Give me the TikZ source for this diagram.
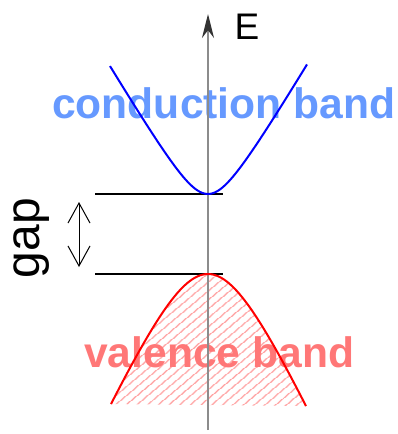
\documentclass[tikz,border=0pt]{standalone}
\usepackage{fontspec}
\setmainfont{Liberation Sans}
\usetikzlibrary{arrows.meta,patterns.meta}
\definecolor{condblue}{HTML}{6699FF}
\definecolor{valred}{HTML}{FF7777}
\definecolor{hatchred}{HTML}{FFA0A0}
\begin{document}
\begin{tikzpicture}[x=1pt,y=-1pt,
  bandlabel/.style={inner sep=0pt, font=\fontsize{42.6}{42.6}\selectfont\bfseries},
  levelline/.style={black, line width=1.3pt},
  axisline/.style={gray!90, line width=2pt},
  bandcurve/.style={line width=2pt}]
\useasboundingbox (0,0) rectangle (397,434);
% hatched valence region
\path[pattern={Lines[angle=40,distance=6.5pt,line width=1.4pt]}, pattern color=hatchred]
  plot[domain=-97:98, samples=80] ({208+\x}, {274 + 2.2*(sqrt(2500+\x*\x)-50)}) -- cycle;
% labels
\node[bandlabel, text=condblue, anchor=base west] (cb) at (52,118) {conduction band};
\node[bandlabel, text=valred, anchor=base west] (vb) at (84,367) {valence band};
\node[inner sep=0pt, rotate=90, anchor=base, font=\fontsize{48}{48}\selectfont] (gap) at (39,238) {gap};
\node[inner sep=0pt, font=\fontsize{37}{37}\selectfont] (E) at (247,27) {E};
% axis
\coordinate (axb) at (208,430);
\coordinate (axt) at (208,14);
\draw[axisline, -{Stealth[length=24pt,width=12pt,black!80]}] (axb) -- (axt);
% level lines
\coordinate (cl) at (95,194); \coordinate (cr) at (223,194);
\coordinate (vl) at (95,274); \coordinate (vr) at (223,274);
\draw[levelline] (cl) -- (cr);
\draw[levelline] (vl) -- (vr);
% gap arrow
\coordinate (ga) at (79,202); \coordinate (gb) at (79,267);
\draw[line width=1pt, {Straight Barb[length=20pt,width=22pt]}-{Straight Barb[length=20pt,width=22pt]}] (ga) -- (gb);
% bands
\draw[bandcurve, blue] plot[domain=-98:99, samples=80] ({208+\x}, {194 - 1.68*(sqrt(625+\x*\x)-25)});
\draw[bandcurve, red] plot[domain=-97:98, samples=80] ({208+\x}, {274 + 2.2*(sqrt(2500+\x*\x)-50)});
\end{tikzpicture}
\end{document}
